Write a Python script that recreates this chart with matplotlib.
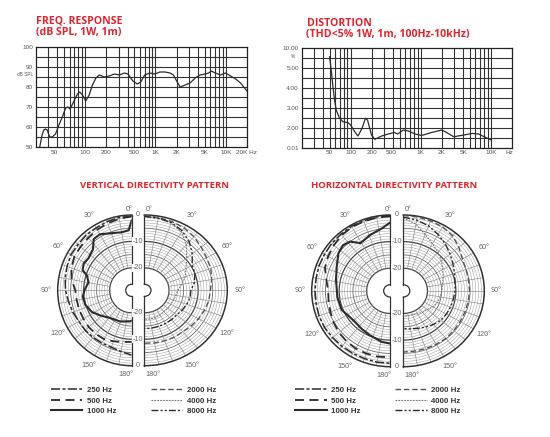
import numpy as np
import matplotlib.pyplot as plt
from matplotlib.lines import Line2D

W_PX, H_PX = 550, 437

# frequency response (Hz, dB SPL)
fr_freq = [22.6, 24.4, 25.8, 27.3, 28.8, 31.4, 34, 37.9, 42.4, 47.3,
           52.8, 57, 60.9, 69.5, 77.6, 83.8, 91.6, 102, 114, 127,
           142, 159, 187, 221, 260, 307, 363, 405, 477, 551,
           616, 702, 830, 981, 1155, 1364, 1610, 1800, 2000, 2240,
           2640, 3100, 3660, 4300, 5100, 5700, 6200, 7100, 8400, 9900,
           11700, 13800, 16200, 20000]
fr_db = [50, 56, 58.5, 59, 58.5, 55, 55, 56.5, 61, 65,
         69.5, 70, 69, 73, 76.5, 77.5, 76, 73, 76, 81,
         84.5, 86, 85, 85.5, 86.5, 86, 87, 86.5, 83, 81.5,
         82.5, 86, 87, 86.5, 87.5, 87.5, 87, 86, 83, 80,
         81, 82, 84.5, 86, 86.5, 87, 88, 87, 86, 87,
         85.5, 84, 82, 78]
fr_tick_pos = [36, 100, 200, 500, 1000, 2000, 5000, 10000, 20000]
fr_tick_lab = ['50', '100', '200', '500', '1K', '2K', '5K', '10K', '20K Hz']
fr_ylab = ['50', '60', '70', '80', '90', '100']

# distortion (Hz, THD %)
thd_freq = [50, 52.8, 55.8, 58.9, 62.2, 69.5, 77.6, 91.6, 100, 114,
            127, 145, 162, 174, 198, 221, 276, 343, 419, 467,
            565, 665, 830, 1030, 1440, 2000, 2360, 2950, 4100, 5400,
            6700, 8400, 10200]
thd_pct = [7.75, 4.88, 4.05, 3.38, 2.88, 2.47, 2.3, 2.25, 2.13, 1.6,
           1.17, 1.93, 2.47, 2.38, 1.27, 0.84, 1.17, 1.37, 1.53, 1.37,
           1.77, 1.67, 1.37, 1.23, 1.53, 1.77, 1.5, 1.1, 1.27, 1.43,
           1.37, 1.03, 0.77]
thd_tick_pos = [50, 100, 200, 380, 1000, 2000, 4050, 10000, 18600]
thd_tick_lab = ['50', '100', '200', '500', '1K', '2K', '5K', '10K', 'Hz']
thd_marks = [0.01, 2, 3, 4, 5, 10]
thd_ylab = ['0.01', '2.00', '3.00', '4.00', '5.00', '10.00']
thd_grid = [1.0, 2.5, 3.5, 4.5, 7.5]

# directivity (degrees, dB)
ang = list(range(0, 181, 10))
v_250 = [-0.5, -0.5, -0.8, -1.2, -1.2, -1.5, -1.5, -2, -2.5, -3, -3.8, -4.4, -5, -5.1, -5.3, -5.5, -5.6, -5, -4]
v_500 = [-0.5, -1, -1.5, -2, -2.5, -2.8, -3, -3.8, -5, -6.8, -7, -7, -7, -6.9, -7, -7.2, -8, -8.7, -9]
v_1000_ang = [0, 3, 10, 20, 30, 37, 44, 54, 61, 68, 72, 80, 89, 97, 107, 118, 128, 141, 159, 177, 180]
v_1000 = [-2, -5.75, -6.2, -5.5, -4, -4.2, -7, -7.9, -7.4, -8.1, -10.4, -11.6, -10.4, -9.5, -9.8, -11.1, -13.1, -15.1, -15.9, -16.75, -17]
v_2000 = [-0.3, -0.5, -0.8, -1.2, -2, -3, -3.8, -4.2, -5, -5.8, -6, -6.5, -7, -7.5, -8, -8, -8.2, -8.3, -8.5]
v_4000 = [-0.5, -0.8, -1.5, -3, -6, -9.5, -12, -13.5, -15.5, -17, -17.5, -17.8, -18, -18, -18, -17.8, -17.5, -17.5, -17.5]
v_8000 = [-0.5, -0.8, -1.2, -2.5, -4.5, -7, -9.5, -10, -11, -12.5, -12.5, -13, -13.5, -14, -14, -14, -14, -14, -14]

h_250 = [-0.3, -0.3, -0.5, -0.5, -0.7, -0.8, -1, -1, -1.2, -1.2, -1.2, -1, -1, -1.2, -1.3, -1.4, -1.4, -1.3, -1.3]
h_500 = [-0.5, -0.5, -0.7, -0.8, -1.2, -1.8, -2.5, -3.3, -5, -6, -5.8, -5.4, -4.8, -4.2, -3.8, -3.5, -3.4, -3.4, -3.5]
h_1000_ang = [0, 7, 19, 31, 38, 45, 53, 65, 78, 97, 112, 130, 144, 156, 171, 180]
h_1000 = [-2.85, -4.8, -6.3, -7.6, -5, -4.3, -5, -7.1, -8.4, -9.2, -9.5, -11.2, -10.9, -10.3, -9.1, -8.7]
h_2000 = [-0.2, -0.3, -0.5, -0.8, -1.5, -3, -4.5, -5, -5.2, -5.2, -5.3, -5.4, -5.4, -5.3, -5.2, -5.3, -5.4, -5.5, -5.5]
h_4000 = [-1.2, -3, -6, -8, -9.5, -11, -12.5, -13.5, -14.5, -15, -15.3, -15.7, -16.5, -17.5, -18, -18.5, -19, -19, -19]
h_8000 = [-0.8, -1.5, -2.5, -4, -5.5, -7, -8.3, -9.3, -10, -10.3, -10.6, -10.8, -11, -11.3, -12, -12.8, -13.5, -14, -14.3]

legend_labels = ['250 Hz', '500 Hz', '1000 Hz', '2000 Hz', '4000 Hz', '8000 Hz']

RED = '#e3222d'
INK = '#2b2b2b'
GRAY = '#666666'

styles = {
    '250 Hz': dict(color=INK, lw=1.1, ls=(0, (6, 1.5, 2, 1.5))),
    '500 Hz': dict(color=INK, lw=1.3, ls=(0, (5, 3))),
    '1000 Hz': dict(color=INK, lw=1.5, ls='-'),
    '2000 Hz': dict(color='#555555', lw=1.0, ls=(0, (4, 2))),
    '4000 Hz': dict(color='#777777', lw=0.8, ls=(0, (1.6, 1))),
    '8000 Hz': dict(color=INK, lw=1.0, ls=(0, (5, 1.5, 1.5, 1.5, 1.5, 1.5))),
}

plt.rcParams['font.family'] = ['Liberation Sans', 'DejaVu Sans']

fig = plt.figure(figsize=(5.5, 4.37), dpi=100)


def px_axes(x0, y0, x1, y1, **kw):
    return fig.add_axes([x0 / W_PX, 1 - y1 / H_PX, (x1 - x0) / W_PX, (y1 - y0) / H_PX], **kw)


def fig_text(x, y, s, **kw):
    fig.text(x / W_PX, 1 - y / H_PX, s, **kw)


grid_freq = [30, 40, 50, 60, 70, 80, 90, 100, 200, 300, 400, 500, 600, 700, 800, 900,
             1000, 2000, 3000, 4000, 5000, 6000, 7000, 8000, 9000, 10000]


def style_top(ax):
    ax.set_xscale('log')
    ax.set_xlim(20, 20000)
    for f in grid_freq:
        ax.axvline(f, color='#333333', lw=0.8, zorder=1)
    ax.tick_params(length=0, labelsize=4.6, labelcolor='#555555', pad=2)
    ax.minorticks_off()
    for s in ax.spines.values():
        s.set_linewidth(0.9)
        s.set_color('#222222')


# ---- frequency response
ax = px_axes(36, 47, 247, 147)
style_top(ax)
ax.set_ylim(50, 100)
for y in range(55, 100, 5):
    ax.axhline(y, color='#333333', lw=0.8, zorder=1)
ax.plot(fr_freq, fr_db, color=INK, lw=0.9, zorder=3)
ax.set_xticks(fr_tick_pos, fr_tick_lab)
ax.set_yticks(range(50, 101, 10), fr_ylab)
ax.minorticks_off()
ax.text(-0.012, 0.72, 'dB SPL', transform=ax.transAxes, ha='right', va='center',
        fontsize=3.4, color='#555555')

# ---- distortion
fwd = lambda v: np.interp(v, thd_marks, [0, 2, 4, 6, 8, 10])
inv = lambda p: np.interp(p, [0, 2, 4, 6, 8, 10], thd_marks)
ax = px_axes(301.7, 47.7, 512, 147.7)
style_top(ax)
ax.set_yscale('function', functions=(fwd, inv))
ax.set_ylim(0.01, 10)
for y in thd_marks[1:-1] + thd_grid:
    ax.axhline(y, color='#333333', lw=0.8, zorder=1)
ax.plot(thd_freq, thd_pct, color=INK, lw=0.9, zorder=3)
ax.set_xticks(thd_tick_pos, thd_tick_lab)
ax.set_yticks(thd_marks, thd_ylab)
ax.minorticks_off()
ax.text(-0.03, 0.91, '%', transform=ax.transAxes, ha='right', va='center',
        fontsize=3.4, color='#555555')

# ---- titles
tkw = dict(color=RED, fontweight='bold', family=['Open Sans', 'DejaVu Sans'], va='top', ha='left')
fig_text(36, 15.5, 'FREQ. RESPONSE', fontsize=7.6, **tkw)
fig_text(36, 27.5, '(dB SPL, 1W, 1m)', fontsize=7.6, **tkw)
fig_text(306.5, 17.5, 'DISTORTION', fontsize=7.6, **tkw)
fig_text(305.5, 29.5, '(THD<5% 1W, 1m, 100Hz-10kHz)', fontsize=7.6, **tkw)
pkw = dict(color=RED, fontweight='bold', family=['Open Sans', 'DejaVu Sans'], va='center', ha='center',
           fontsize=6.8)
fig_text(154.7, 186, 'VERTICAL DIRECTIVITY PATTERN', **pkw)
fig_text(393.8, 186, 'HORIZONTAL DIRECTIVITY PATTERN', **pkw)

# ---- directivity halves
R_ORIGIN = -28.5
R_INNER = -26.2
ring_db = list(range(-20, 0, 1))
spoke_deg = list(range(10, 180, 10))


def polar_half(x_edge, w, y0, y1, side, curves):
    x0 = x_edge - 1.5 * w if side == 'left' else x_edge - 0.5 * w
    ax = px_axes(x0, y0, x0 + 2 * w, y1, projection='polar')
    ax.set_aspect('auto')
    ax.set_theta_zero_location('N')
    ax.set_theta_direction(1 if side == 'left' else -1)
    ax.set_thetamin(0)
    ax.set_thetamax(180)
    ax.set_rorigin(R_ORIGIN)
    ax.set_ylim(R_INNER, 0)
    ax.set_xticks([])
    ax.set_yticks([])
    ax.grid(False)
    th = np.linspace(0, np.pi, 181)
    for db in ring_db:
        if db in (-20, -10):
            c, lw = '#444444', 0.9
        elif db % 5 == 0:
            c, lw = '#666666', 0.6
        else:
            c, lw = '#9a9a9a', 0.35
        ax.plot(th, np.full_like(th, db), color=c, lw=lw, zorder=1)
    for a in spoke_deg:
        ax.plot([np.deg2rad(a)] * 2, [-20, 0], color='#8a8a8a', lw=0.45, zorder=1)
    for sp in ax.spines.values():
        sp.set_color('#333333')
        sp.set_linewidth(0.9)
    ax.spines['polar'].set_linewidth(1.1)
    for lab, (a, d) in curves.items():
        ax.plot(np.deg2rad(a), d, zorder=3, **styles[lab])
    lkw = dict(fontsize=5.2, color=GRAY, ha='center', va='center')
    for a in (30, 60, 90, 120, 150):
        ax.text(np.deg2rad(a), 4.3, f'{a}°', **lkw)
    ha = 'right' if side == 'left' else 'left'
    ax.annotate('0°', (0, 0), xytext=(1, 4), textcoords='offset points', ha=ha, va='center',
                fontsize=5.2, color=GRAY, annotation_clip=False)
    ax.annotate('180°', (np.pi, 0), xytext=(1, -6), textcoords='offset points', ha=ha,
                va='center', fontsize=5.2, color=GRAY, annotation_clip=False)
    return ax


def radial_labels(ax, gap_px):
    off = gap_px / 2 * 72 / 100
    for th in (0, np.pi):
        for db in (0, -10, -20):
            ax.annotate(str(db), (th, db), xytext=(off, 0), textcoords='offset points',
                        ha='center', va='center', fontsize=5.2, color=GRAY, annotation_clip=False,
                        bbox=dict(fc='white', ec='none', pad=0.4), zorder=5)


axl = polar_half(131.7, 74, 215, 365.7, 'left',
                 {'250 Hz': (ang, v_250), '500 Hz': (ang, v_500), '1000 Hz': (v_1000_ang, v_1000)})
polar_half(144.3, 83, 215, 365.7, 'right',
           {'2000 Hz': (ang, v_2000), '4000 Hz': (ang, v_4000), '8000 Hz': (ang, v_8000)})
radial_labels(axl, 144.3 - 131.7)

axl = polar_half(390, 78.3, 215, 366.7, 'left',
                 {'250 Hz': (ang, h_250), '500 Hz': (ang, h_500), '1000 Hz': (h_1000_ang, h_1000)})
polar_half(403.3, 81, 215, 366.7, 'right',
           {'2000 Hz': (ang, h_2000), '4000 Hz': (ang, h_4000), '8000 Hz': (ang, h_8000)})
radial_labels(axl, 403.3 - 390)

# ---- legends
handles = [Line2D([], [], **styles[l]) for l in legend_labels]
for x in (50.7, 295):
    fig.legend(handles, legend_labels, loc='upper left', bbox_to_anchor=(x / W_PX, 1 - 386.5 / H_PX),
               ncol=2, frameon=False, borderpad=0, borderaxespad=0,
               prop=dict(weight='bold', size=5.7), labelcolor='#333333',
               handlelength=4.0, handletextpad=0.6, columnspacing=4.3, labelspacing=0.38)

fig.savefig('out.png', dpi=100)
